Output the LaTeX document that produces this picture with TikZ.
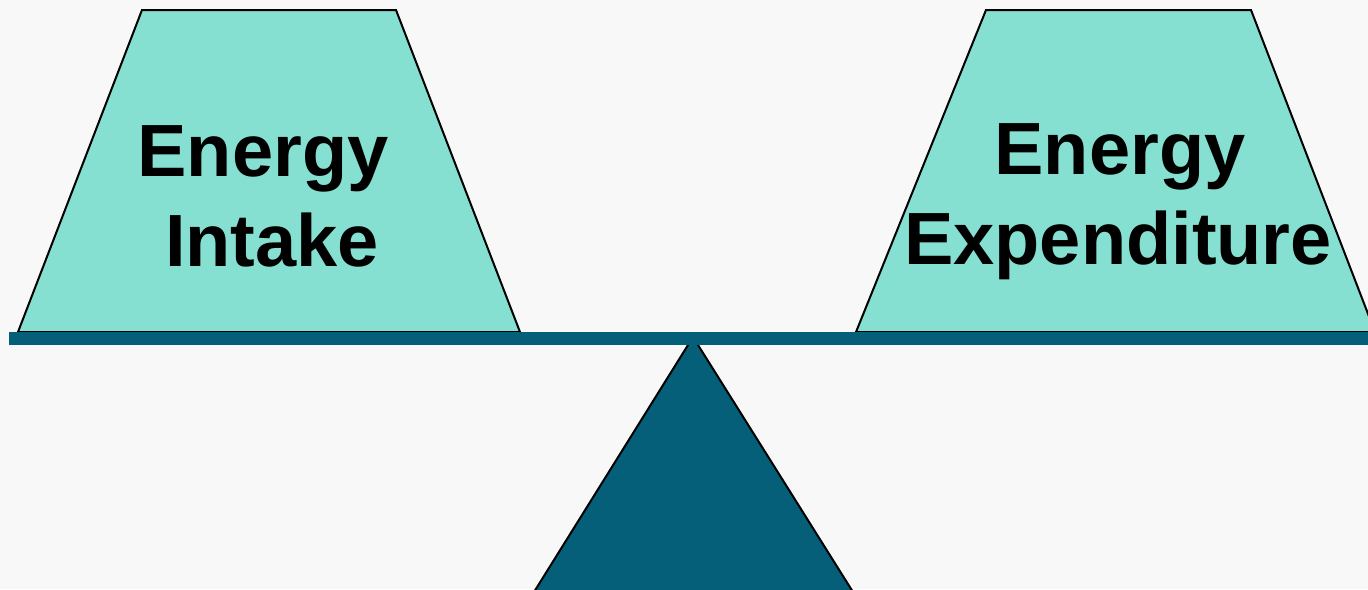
\documentclass[tikz,border=0pt]{standalone}
\usepackage{fontspec}
\setmainfont{Liberation Sans}
\definecolor{pan}{HTML}{86E0D2}
\definecolor{beam}{HTML}{055F78}
\definecolor{bg}{HTML}{F8F8F8}
\begin{document}
\begin{tikzpicture}[x=1pt,y=-1pt,
  outline/.style={draw=black,line width=2pt,line join=miter},
  label/.style={font=\fontsize{74}{90}\selectfont\bfseries,text=black,inner sep=0pt,anchor=base}]
\useasboundingbox (0,0) rectangle (1368,589);
\fill[bg] (0,0) rectangle (1368,589);
\clip (0,0) rectangle (1368,589);
% left pan
\path[outline,fill=pan] (18,332) -- (142,10) -- (396,10) -- (520,332) -- cycle;
% right pan
\path[outline,fill=pan] (856,332) -- (986,10) -- (1251,10) -- (1375,332) -- cycle;
% fulcrum
\path[outline,fill=beam] (534,592) -- (693,337) -- (853,592) -- cycle;
% beam
\fill[beam] (9,332) rectangle (1368,345);
\node[label] (intake1) at (263,176) {Energy};
\node[label] (intake2) at (272,266) {Intake};
\node[label] (expend1) at (1120,174) {Energy};
\node[label] (expend2) at (1118,264) {Expenditure};
\end{tikzpicture}
\end{document}
